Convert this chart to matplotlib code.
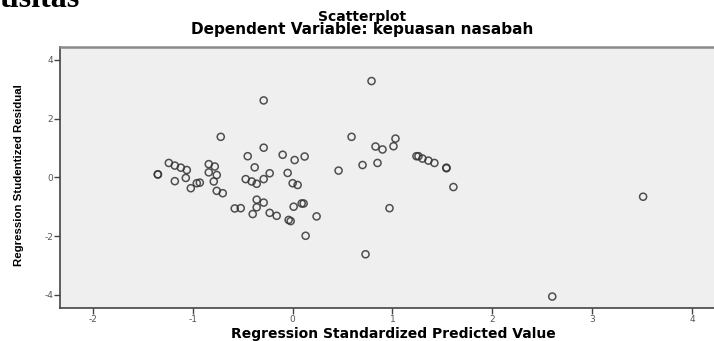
import matplotlib
matplotlib.use("Agg")
import matplotlib.pyplot as plt

# Regression standardized predicted value vs studentized residual
pred = [-0.29, -0.72, -0.29, -0.45, -0.10, 0.02, -1.24, -1.18, -1.12, -1.06,
        -0.84, -0.78, -0.38, -1.35, -1.35, -0.84, -0.76, -0.23, -0.05, -1.07,
        -1.18, -0.96, -0.93, -0.79, -0.47, -0.41, -0.36, -0.29, 0.00, 0.05,
        -1.02, -0.76, -0.70, -0.36, -0.29, -0.58, -0.52, -0.36, 0.01, 0.09,
        0.11, -0.40, -0.23, -0.16, -0.04, -0.02, 0.79, 0.59, 1.03, 0.83,
        0.90, 1.01, 1.24, 1.26, 1.30, 1.36, 1.42, 1.54, 1.54, 1.61,
        0.70, 0.85, 0.46, 0.12, 0.97, 0.73, 0.13, 0.24, 3.51, 2.60]
resid = [2.62, 1.38, 1.01, 0.72, 0.77, 0.59, 0.49, 0.40, 0.33, 0.25,
         0.45, 0.37, 0.34, 0.10, 0.10, 0.17, 0.08, 0.14, 0.15, -0.02,
         -0.13, -0.20, -0.18, -0.14, -0.06, -0.14, -0.22, -0.06, -0.20, -0.26,
         -0.37, -0.46, -0.54, -0.76, -0.86, -1.06, -1.05, -1.02, -1.00, -0.89,
         -0.89, -1.25, -1.21, -1.31, -1.45, -1.49, 3.28, 1.38, 1.32, 1.05,
         0.95, 1.06, 0.72, 0.72, 0.64, 0.57, 0.49, 0.31, 0.33, -0.33,
         0.42, 0.49, 0.23, 0.71, -1.05, -2.62, -1.99, -1.33, -0.66, -4.06]
xticks = [-2, -1, 0, 1, 2, 3, 4]
yticks = [-4, -2, 0, 2, 4]

plt.rcParams['axes.unicode_minus'] = False

fig = plt.figure(figsize=(7.14, 3.41), dpi=100)
ax = fig.add_axes([60 / 714, 1 - 308 / 341, 654 / 714, (308 - 46.7) / 341])
ax.set_facecolor('#efefef')

ax.scatter(pred, resid, s=26, facecolors='none', edgecolors='#333333',
           linewidths=1.1, alpha=0.85, zorder=3)

ax.set_xlim(-2.33, 4.22)
ax.set_ylim(-4.45, 4.45)
ax.set_xticks(xticks)
ax.set_yticks(yticks)
ax.tick_params(labelsize=6.5, labelcolor='#555555', color='#444444',
               length=4, width=1, pad=1)

for side in ['left', 'bottom']:
    ax.spines[side].set_color('#444444')
    ax.spines[side].set_linewidth(1.2)
ax.spines['top'].set_color('#8a8a8a')
ax.spines['top'].set_linewidth(1.8)
ax.spines['right'].set_visible(False)

fig.text(362 / 714, 1 - 20.5 / 341, 'Scatterplot', ha='center', va='baseline',
         fontsize=10, fontweight='bold')
fig.text(362 / 714, 1 - 34 / 341, 'Dependent Variable: kepuasan nasabah',
         ha='center', va='baseline', fontsize=11, fontweight='bold')
fig.text(393.5 / 714, 3 / 341, 'Regression Standardized Predicted Value',
         ha='center', va='baseline', fontsize=10, fontweight='bold')
fig.text(19 / 714, 1 - 175 / 341, 'Regression Studentized Residual',
         rotation=90, ha='center', va='center', fontsize=8.2, fontweight='bold',
         family=['Liberation Sans Narrow', 'Liberation Sans', 'DejaVu Sans'])

# cut-off heading from the surrounding document
fig.text(0.0, 1 - 7 / 341, 'tisitas', ha='left', va='baseline', fontsize=23,
         fontweight='bold', family=['Liberation Serif', 'DejaVu Serif'])

fig.savefig('out.png', dpi=100)
